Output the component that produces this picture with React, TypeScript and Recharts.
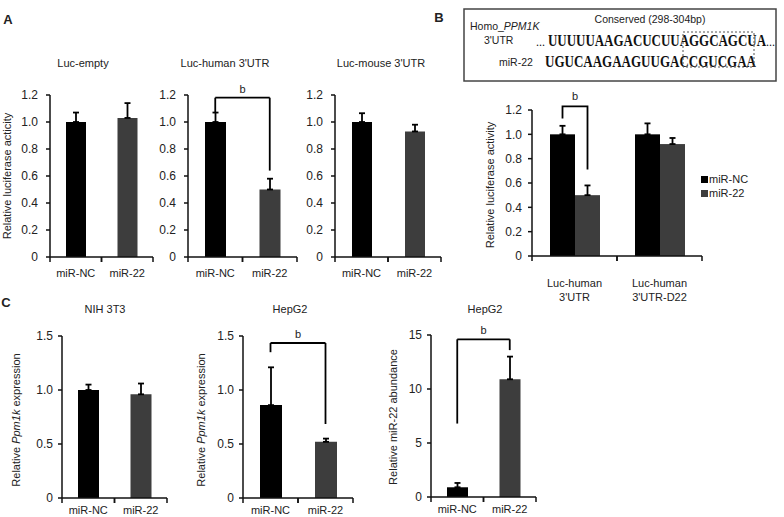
import React from 'react';
import { BarChart, Bar, XAxis, YAxis, ErrorBar, Cell, ReferenceLine, Legend } from 'recharts';

const FONT = '"Liberation Sans", Arial, sans-serif';
const SERIF = '"Liberation Serif", "Times New Roman", serif';
const NC_COLOR = '#000000';
const MIR_COLOR = '#3d3d3d';
const AXIS = '#111';
const TXT = '#222';

// ---------- data ----------
const groups = ['miR-NC', 'miR-22'];

// Panel A (relative luciferase activity)
const aEmptyMean = [1.0, 1.03];
const aEmptyErr = [0.07, 0.11];
const aHumanMean = [1.0, 0.5];
const aHumanErr = [0.07, 0.08];
const aMouseMean = [1.0, 0.93];
const aMouseErr = [0.065, 0.05];
const aTicks = [0, 0.2, 0.4, 0.6, 0.8, 1.0, 1.2];
// bracket: [top, left leg bottom, right leg bottom]
const aHumanBracket = [1.18, 1.07, 0.64];

// Panel B (grouped)
const bCategoryLines = [['Luc-human', "3'UTR"], ['Luc-human', "3'UTR-D22"]];
const bNcMean = [1.0, 1.0];
const bNcErr = [0.07, 0.09];
const bMirMean = [0.5, 0.92];
const bMirErr = [0.08, 0.05];
const bBracketGroup = 0;
const bBracket = [1.23, 1.13, 0.71];

// Panel C
const cNihMean = [1.0, 0.96];
const cNihErr = [0.05, 0.1];
const cHepMean = [0.86, 0.52];
const cHepErr = [0.35, 0.03];
const cHepBracket = [1.435, 1.35, 0.685];
const cMirMean = [0.9, 10.9];
const cMirErr = [0.4, 2.1];
const cMirBracket = [14.6, 6.8, 13.6];
const cTicks = [0, 0.5, 1.0, 1.5];
const cMirTicks = [0, 5, 10, 15];

// ---------- helpers ----------
const fmt1 = (v: number) => (v === 0 ? '0' : v.toFixed(1));
const fmt0 = (v: number) => String(v);

const YW = 50;
const MT = 12;
const MR = 10;
const XH = 50;

function CatTick(props: any) {
  const { x, y, payload, half, dy, fontSize } = props;
  const lines = String(payload.value).split('\n');
  return (
    <g>
      <line x1={x - half} x2={x - half} y1={y} y2={y + 5} stroke={AXIS} strokeWidth={1.5} />
      <line x1={x + half} x2={x + half} y1={y} y2={y + 5} stroke={AXIS} strokeWidth={1.5} />
      <text x={x} y={y + dy} textAnchor="middle" fontSize={fontSize} fill={TXT} fontFamily={FONT}>
        {lines.map((l, i) => (
          <tspan key={i} x={x} dy={i === 0 ? 0 : 14}>
            {l}
          </tspan>
        ))}
      </text>
    </g>
  );
}

type PanelProps = {
  x0: number;
  y0: number;
  pw: number;
  ph: number;
  means: number[];
  errs: number[];
  domainMax: number;
  ticks: number[];
  fmt: (v: number) => string;
  barSize: number;
  tickGap: number;
  labelDy: number;
  bracket?: number[];
};

function SimplePanel(p: PanelProps) {
  const data = groups.map((g, i) => ({ name: g, v: p.means[i], err: [0, p.errs[i]] }));
  const half = p.pw / groups.length / 2;
  const colors = [NC_COLOR, MIR_COLOR];
  return (
    <div style={{ position: 'absolute', left: p.x0 - YW, top: p.y0 - MT }}>
      <BarChart
        width={YW + p.pw + MR}
        height={MT + p.ph + XH}
        data={data}
        margin={{ top: MT, right: MR, bottom: 0, left: 0 }}
        barCategoryGap={0}
      >
        <XAxis
          dataKey="name"
          height={XH}
          interval={0}
          tickSize={0}
          tickMargin={0}
          tickLine={false}
          axisLine={{ stroke: AXIS, strokeWidth: 1.5 }}
          tick={(tp: any) => <CatTick {...tp} half={half} dy={p.labelDy} fontSize={11} />}
        />
        <YAxis
          width={YW}
          domain={[0, p.domainMax]}
          ticks={p.ticks}
          tickFormatter={p.fmt}
          interval={0}
          tickSize={4}
          tickMargin={p.tickGap - 4}
          tickLine={{ stroke: AXIS, strokeWidth: 1.5 }}
          axisLine={{ stroke: AXIS, strokeWidth: 1.5 }}
          tick={{ fontSize: 12, fill: TXT, fontFamily: FONT }}
        />
        <Bar dataKey="v" barSize={p.barSize} isAnimationActive={false}>
          {data.map((d, i) => (
            <Cell key={d.name} fill={colors[i]} />
          ))}
          <ErrorBar dataKey="err" width={3} stroke="#000" strokeWidth={1.8} isAnimationActive={false} />
        </Bar>
        {p.bracket && (
          <ReferenceLine
            segment={[
              { x: groups[0], y: p.bracket[0] },
              { x: groups[1], y: p.bracket[0] },
            ]}
            stroke="#000"
            strokeWidth={1.8}
            ifOverflow="visible"
            label={{ value: 'b', position: 'top', offset: 5, fontSize: 11, fill: TXT, fontFamily: FONT }}
          />
        )}
        {p.bracket && (
          <ReferenceLine
            segment={[
              { x: groups[0], y: p.bracket[0] },
              { x: groups[0], y: p.bracket[1] },
            ]}
            stroke="#000"
            strokeWidth={1.8}
            ifOverflow="visible"
          />
        )}
        {p.bracket && (
          <ReferenceLine
            segment={[
              { x: groups[1], y: p.bracket[0] },
              { x: groups[1], y: p.bracket[2] },
            ]}
            stroke="#000"
            strokeWidth={1.8}
            ifOverflow="visible"
          />
        )}
      </BarChart>
    </div>
  );
}

function makeBShape(series: 'nc' | 'mir') {
  return (props: any) => {
    const { x, y, width, height, fill, payload } = props;
    const val = series === 'nc' ? payload.nc : payload.mir;
    const unit = height / val;
    const base = y + height;
    const cx = x + width / 2;
    const parts: any[] = [<rect key="r" x={x} y={y} width={width} height={height} fill={fill} />];
    if (payload.idx === bBracketGroup) {
      const yt = base - bBracket[0] * unit;
      if (series === 'nc') {
        parts.push(
          <path key="b" d={`M${cx},${base - bBracket[1] * unit} V${yt} H${x + width}`} stroke="#000" strokeWidth={1.8} fill="none" />
        );
      } else {
        parts.push(
          <path key="b" d={`M${x},${yt} H${cx} V${base - bBracket[2] * unit}`} stroke="#000" strokeWidth={1.8} fill="none" />
        );
        parts.push(
          <text key="t" x={x} y={yt - 6} textAnchor="middle" fontSize={11} fill={TXT} fontFamily={FONT}>
            b
          </text>
        );
      }
    }
    return <g>{parts}</g>;
  };
}

const legendOrder = ['miR-NC', 'miR-22'];

function PanelB() {
  const x0 = 532;
  const y0 = 110;
  const pw = 170;
  const ph = 146;
  const MRB = 90;
  const MTB = 30;
  const data = bCategoryLines.map((lines, i) => ({
    name: lines.join('\n'),
    idx: i,
    nc: bNcMean[i],
    ncErr: [0, bNcErr[i]],
    mir: bMirMean[i],
    mirErr: [0, bMirErr[i]],
  }));
  const half = pw / data.length / 2;
  const left = x0 - YW;
  const top = y0 - MTB;
  return (
    <div style={{ position: 'absolute', left, top }}>
      <BarChart
        width={YW + pw + MRB}
        height={MTB + ph + XH + 10}
        data={data}
        margin={{ top: MTB, right: MRB, bottom: 0, left: 0 }}
        barGap={0}
        barCategoryGap={0}
      >
        <XAxis
          dataKey="name"
          height={XH + 10}
          interval={0}
          tickSize={0}
          tickMargin={0}
          tickLine={false}
          axisLine={{ stroke: AXIS, strokeWidth: 1.5 }}
          tick={(tp: any) => <CatTick {...tp} half={half} dy={31} fontSize={11} />}
        />
        <YAxis
          width={YW}
          domain={[0, 1.2]}
          ticks={aTicks}
          tickFormatter={fmt1}
          interval={0}
          tickSize={4}
          tickMargin={6}
          tickLine={{ stroke: AXIS, strokeWidth: 1.5 }}
          axisLine={{ stroke: AXIS, strokeWidth: 1.5 }}
          tick={{ fontSize: 12, fill: TXT, fontFamily: FONT }}
        />
        <Legend
          layout="horizontal"
          align="center"
          verticalAlign="middle"
          wrapperStyle={{ left: 701 - left, top: 172 - top, width: 70, height: 30 }}
          content={(lp: any) => {
            const items = [...(lp.payload || [])].sort(
              (a: any, b: any) => legendOrder.indexOf(a.value) - legendOrder.indexOf(b.value)
            );
            return (
              <div style={{ fontFamily: FONT, fontSize: 11, color: TXT }}>
                {items.map((it: any) => (
                  <div key={it.value} style={{ display: 'flex', alignItems: 'center', height: 14 }}>
                    <span style={{ display: 'inline-block', width: 7, height: 7, background: it.color, marginRight: 1 }} />
                    <span>{it.value}</span>
                  </div>
                ))}
              </div>
            );
          }}
        />
        <Bar dataKey="nc" name="miR-NC" fill={NC_COLOR} barSize={25} isAnimationActive={false} shape={makeBShape('nc')}>
          <ErrorBar dataKey="ncErr" width={3} stroke="#000" strokeWidth={1.8} isAnimationActive={false} />
        </Bar>
        <Bar dataKey="mir" name="miR-22" fill={MIR_COLOR} barSize={25} isAnimationActive={false} shape={makeBShape('mir')}>
          <ErrorBar dataKey="mirErr" width={3} stroke="#000" strokeWidth={1.8} isAnimationActive={false} />
        </Bar>
      </BarChart>
    </div>
  );
}

function T({ x, y, children, size = 11, weight = 'normal', rotate = false }: any) {
  return (
    <div
      style={{
        position: 'absolute',
        left: x,
        top: y,
        transform: `translate(-50%, -50%)${rotate ? ' rotate(-90deg)' : ''}`,
        whiteSpace: 'nowrap',
        fontSize: size,
        fontWeight: weight,
        lineHeight: 1,
        color: TXT,
        fontFamily: FONT,
      }}
    >
      {children}
    </div>
  );
}

function SequenceBox() {
  return (
    <svg style={{ position: 'absolute', left: 463, top: 8 }} width={316} height={76}>
      <rect x={1} y={1} width={312} height={72} fill="none" stroke="#444" strokeWidth={1.5} />
      <text x={187} y={15} textAnchor="middle" fontSize={10.5} fill={TXT} fontFamily={FONT}>
        Conserved (298-304bp)
      </text>
      <text x={7} y={22} fontSize={10.5} fill={TXT} fontFamily={FONT}>
        Homo_<tspan fontStyle="italic">PPM1K</tspan>
      </text>
      <text x={21} y={36} fontSize={10.5} fill={TXT} fontFamily={FONT}>
        3'UTR
      </text>
      <text x={36} y={58} fontSize={10.5} fill={TXT} fontFamily={FONT}>
        miR-22
      </text>
      <text x={73} y={38} fontSize={12} fill="#111" fontFamily={SERIF}>
        ...
      </text>
      <text x={85} y={38} fontSize={17} fontWeight="bold" fill="#111" fontFamily={SERIF} textLength={218} lengthAdjust="spacingAndGlyphs">
        UUUUUAAGACUCUUAGGCAGCUA
      </text>
      <text x={303} y={38} fontSize={12} fill="#111" fontFamily={SERIF}>
        ...
      </text>
      <text x={82} y={59} fontSize={17} fontWeight="bold" fill="#111" fontFamily={SERIF} textLength={211} lengthAdjust="spacingAndGlyphs">
        UGUCAAGAAGUUGACCGUCGAA
      </text>
      <rect x={220} y={24} width={71} height={35} fill="none" stroke="#555" strokeWidth={1} strokeDasharray="2,2" />
    </svg>
  );
}

export default function App() {
  return (
    <div
      style={{
        position: 'absolute',
        left: 0,
        top: 0,
        width: 784,
        height: 517,
        background: '#fff',
        fontFamily: FONT,
        overflow: 'hidden',
      }}
    >
      <T x={8} y={19} size={13} weight="bold">A</T>
      <T x={439} y={17} size={13} weight="bold">B</T>
      <T x={6} y={302} size={13} weight="bold">C</T>

      <T x={83} y={63}>Luc-empty</T>
      <T x={225} y={63}>Luc-human 3'UTR</T>
      <T x={381} y={63}>Luc-mouse 3'UTR</T>
      <T x={7} y={176} rotate>Relative luciferase acticity</T>

      <SimplePanel x0={50} y0={95} pw={103} ph={162} means={aEmptyMean} errs={aEmptyErr} domainMax={1.2} ticks={aTicks} fmt={fmt1} barSize={20} tickGap={12} labelDy={20} />
      <SimplePanel x0={188} y0={95} pw={109} ph={162} means={aHumanMean} errs={aHumanErr} domainMax={1.2} ticks={aTicks} fmt={fmt1} barSize={21} tickGap={12} labelDy={20} bracket={aHumanBracket} />
      <SimplePanel x0={335} y0={95} pw={106} ph={162} means={aMouseMean} errs={aMouseErr} domainMax={1.2} ticks={aTicks} fmt={fmt1} barSize={20} tickGap={12} labelDy={20} />

      <SequenceBox />
      <T x={490} y={185} rotate>Relative luciferase activity</T>
      <PanelB />

      <T x={105} y={309}>NIH 3T3</T>
      <T x={290} y={309}>HepG2</T>
      <T x={485} y={309}>HepG2</T>
      <T x={16} y={420} rotate>Relative <i>Ppm1k</i> expression</T>
      <T x={201} y={420} rotate>Relative <i>Ppm1k</i> expression</T>
      <T x={393} y={417} rotate>Relative miR-22 abundance</T>

      <SimplePanel x0={62} y0={336} pw={105} ph={162} means={cNihMean} errs={cNihErr} domainMax={1.5} ticks={cTicks} fmt={fmt1} barSize={21} tickGap={9} labelDy={16} />
      <SimplePanel x0={243} y0={336} pw={110} ph={162} means={cHepMean} errs={cHepErr} domainMax={1.5} ticks={cTicks} fmt={fmt1} barSize={22} tickGap={9} labelDy={16} bracket={cHepBracket} />
      <SimplePanel x0={431} y0={335} pw={105} ph={162} means={cMirMean} errs={cMirErr} domainMax={15} ticks={cMirTicks} fmt={fmt0} barSize={21} tickGap={9} labelDy={16} bracket={cMirBracket} />
    </div>
  );
}
